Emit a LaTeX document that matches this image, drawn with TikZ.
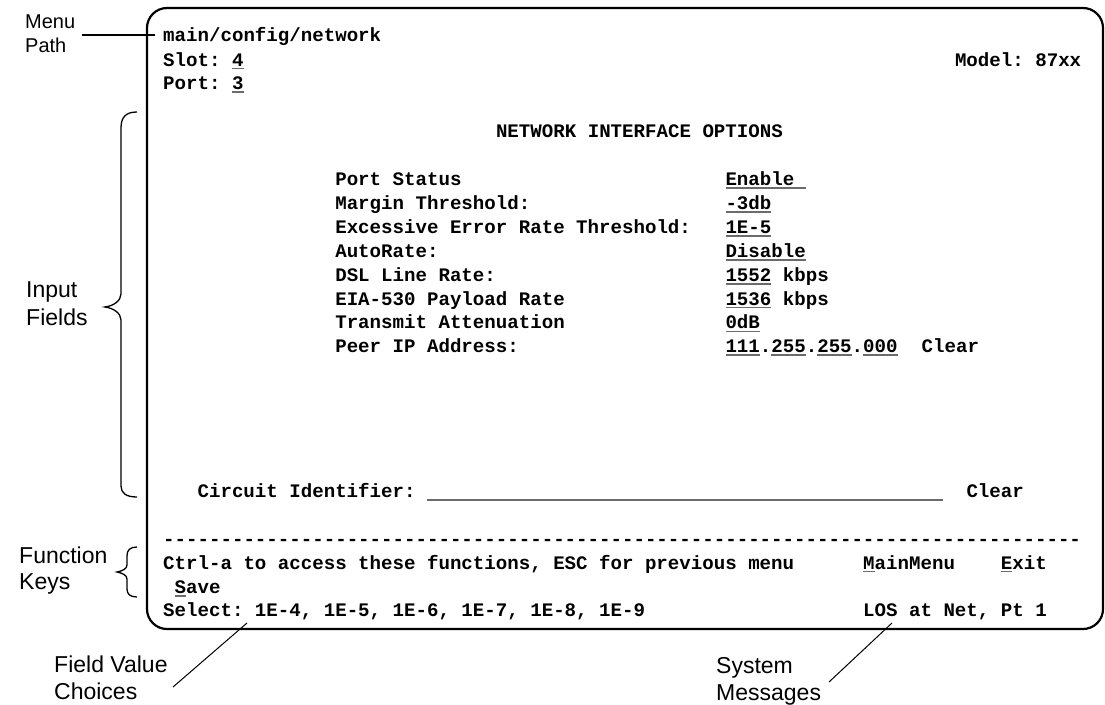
\documentclass[tikz,border=0pt]{standalone}
\usepackage{fontspec}
\setmonofont{Liberation Mono}
\setsansfont{Liberation Sans}
\usepackage{xcolor}
\definecolor{ulgray}{gray}{0.42}
\newsavebox\ulbox
\newcommand\gul[1]{\sbox\ulbox{#1}\rlap{\color{ulgray}\rule[-3.4pt]{\wd\ulbox}{1.8pt}}\usebox\ulbox}
\tikzset{
  scr/.style={font=\ttfamily\bfseries\fontsize{19.12}{22}\selectfont, anchor=base west, inner sep=0pt},
  lbl/.style={font=\sffamily\fontsize{23}{27}\selectfont, anchor=base west, inner sep=0pt},
  lblsm/.style={font=\sffamily\fontsize{20}{24}\selectfont, anchor=base west, inner sep=0pt},
  frame/.style={line width=2.2pt, rounded corners=20pt},
  bracepath/.style={line width=1.3pt},
  leader/.style={line width=1pt},
}
\begin{document}
\begin{tikzpicture}[x=1pt,y=-1pt]
\useasboundingbox (0,0) rectangle (1105,704);
% screen frame
\draw[frame] (147,8) rectangle (1103,629);
% header lines
\node[scr] (mpath) at (163,41) {main/config/network};
\node[scr] (slot) at (163,66) {Slot: \gul{4}};
\node[scr] (model) at (954.8,66) {Model: 87xx};
\node[scr] (port) at (163,89.5) {Port: \gul{3}};
\node[scr] (title) at (495.8,137) {NETWORK INTERFACE OPTIONS};
% fields
\node[scr] (f1) at (335.1,185.5) {Port Status};
\node[scr] (f2) at (335.1,209.4) {Margin Threshold:};
\node[scr] (f3) at (335.1,233.3) {Excessive Error Rate Threshold:};
\node[scr] (f4) at (335.1,257.2) {AutoRate:};
\node[scr] (f5) at (335.1,281.1) {DSL Line Rate:};
\node[scr] (f6) at (335.1,305.0) {EIA-530 Payload Rate};
\node[scr] (f7) at (335.1,328.9) {Transmit Attenuation};
\node[scr] (f8) at (335.1,352.8) {Peer IP Address:};
% values
\node[scr] (v1) at (725.3,185.5) {\gul{Enable\ }};
\node[scr] (v2) at (725.3,209.4) {\gul{-3db}};
\node[scr] (v3) at (725.3,233.3) {\gul{1E-5}};
\node[scr] (v4) at (725.3,257.2) {\gul{Disable}};
\node[scr] (v5) at (725.3,281.1) {\gul{1552} kbps};
\node[scr] (v6) at (725.3,305.0) {\gul{1536} kbps};
\node[scr] (v7) at (725.3,328.9) {\gul{0dB}};
\node[scr] (v8) at (725.3,352.8) {\gul{111}.\gul{255}.\gul{255}.\gul{000}};
\node[scr] (v8c) at (921.4,352.8) {Clear};
% circuit identifier
\node[scr] (circ) at (197.4,497.5) {Circuit Identifier: \gul{\hspace*{516.4pt}}};
\node[scr] (circc) at (966.3,497.5) {Clear};
% function key area
\node[scr] (dash) at (163,545.5) {--------------------------------------------------------------------------------};
\node[scr] (ctrl) at (163,569) {Ctrl-a to access these functions, ESC for previous menu};
\node[scr] (mainm) at (863,569) {\gul{M}ainMenu};
\node[scr] (exit) at (1000.7,569) {\gul{E}xit};
\node[scr] (save) at (174.5,593.5) {\gul{S}ave};
\node[scr] (sel) at (163,616.5) {Select: 1E-4, 1E-5, 1E-6, 1E-7, 1E-8, 1E-9};
\node[scr] (los) at (863,616.5) {LOS at Net, Pt 1};
% labels
\node[lblsm] (lmenu) at (25,28.5) {Menu};
\node[lblsm] (lpath) at (25,52.5) {Path};
\node[lbl] (linput) at (26,297) {Input};
\node[lbl] (lfields) at (26,325) {Fields};
\node[lbl] (lfunc) at (19,563) {Function};
\node[lbl] (lkeys) at (19,589) {Keys};
\node[lbl] (lfv) at (54,672) {Field Value};
\node[lbl] (lcho) at (54,699) {Choices};
\node[lbl] (lsys) at (716,673) {System};
\node[lbl] (lmsg) at (716,700) {Messages};
% leaders
\coordinate (mpA) at (82,35);
\coordinate (mpB) at (155,35);
\draw[line width=1.6pt] (mpA) -- (mpB);
\coordinate (fvA) at (173,687);
\coordinate (fvB) at (247,623);
\draw[leader] (fvA) -- (fvB);
\coordinate (smA) at (829,682);
\coordinate (smB) at (892,623);
\draw[leader] (smA) -- (smB);
% braces
\draw[bracepath] (137,112) .. controls (126,112) and (121,117) .. (121,128)
  -- (121,294) .. controls (121,301) and (113,306) .. (105,307)
  .. controls (113,308) and (121,313) .. (121,320)
  -- (121,486) .. controls (121,493) and (126,497) .. (137,497);
\draw[bracepath] (137,547) .. controls (130,547) and (127,550) .. (127,556)
  -- (127,565) .. controls (127,569) and (122,571) .. (117,572)
  .. controls (122,573) and (127,575) .. (127,579)
  -- (127,589) .. controls (127,594) and (130,597) .. (137,597);
\end{tikzpicture}
\end{document}
